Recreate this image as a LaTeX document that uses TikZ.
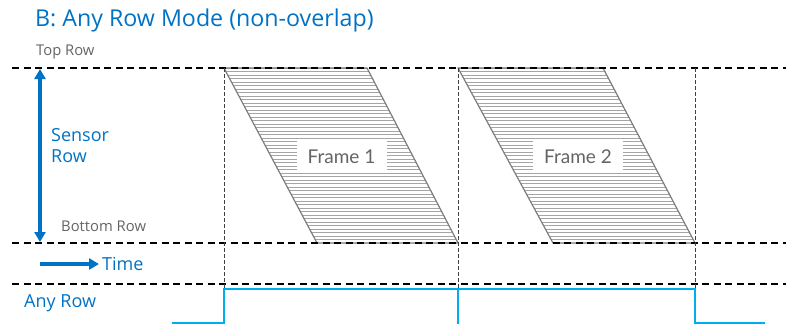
\documentclass[tikz,border=0pt]{standalone}
\usepackage{fontspec}
\setmainfont{Open Sans}
\newfontfamily\framefont{Lato}
\usetikzlibrary{arrows.meta}
\definecolor{titleblue}{RGB}{0,114,198}
\definecolor{sigblue}{RGB}{0,174,239}
\definecolor{labgray}{RGB}{100,100,100}
\definecolor{hatchgray}{RGB}{165,165,165}
\definecolor{edgegray}{RGB}{125,125,125}

\begin{document}
\begin{tikzpicture}[x=1pt,y=-1pt,
    rowline/.style={black,line width=1.3pt,dash pattern=on 7pt off 4.5pt},
    timeline/.style={black!75,line width=0.8pt,dash pattern=on 4pt off 2pt},
    bluearrow/.style={titleblue,line width=3.5pt,-{Triangle[length=10pt,width=11pt]}},
    bluetext/.style={titleblue,anchor=west,inner sep=0pt,font=\fontsize{18}{21}\selectfont},
    graytext/.style={labgray,anchor=west,inner sep=0pt,font=\fontsize{14.8}{17}\selectfont},
    framelabel/.style={fill=white,text=labgray,minimum width=90pt,minimum height=32pt,
      inner sep=0pt,font=\framefont\fontsize{19}{22}\selectfont}]
  \useasboundingbox (0,0) rectangle (786,324);

  % title and row labels
  \node[bluetext,font=\fontsize{23.2}{26}\selectfont] (title) at (35,20) {B: Any Row Mode (non-overlap)};
  \node[graytext] (toprow) at (36,52) {Top Row};
  \node[graytext] (botrow) at (61,226) {Bottom Row};
  \node[bluetext,align=left] (sensorrow) at (51,146) {Sensor\\Row};
  \node[bluetext] (time) at (102,264) {Time};
  \node[bluetext] (anyrow) at (24,303) {Any Row};

  % frames: hatched parallelograms
  \foreach \a/\b/\c/\d/\n in {224/367/317/458/1, 458/603/553/695/2}
  {
    \begin{scope}
      \clip (\a,68) -- (\b,68) -- (\d,243) -- (\c,243) -- cycle;
      \foreach \k in {0,...,50}
        \draw[hatchgray,line width=0.7pt] (\a,68+\k*3.5) -- (\d,68+\k*3.5);
    \end{scope}
    \draw[edgegray,line width=1.2pt,line join=round] (\a,68) -- (\b,68) -- (\d,243) -- (\c,243) -- cycle;
    \node[framelabel] (frame\n) at ({(\a+\d)/2+\n*1-0.5},157) {Frame \n};
  }

  % row and time grid
  \draw[rowline] (12,68) -- (786,68);
  \draw[rowline] (12,243) -- (786,243);
  \draw[rowline] (12,284) -- (786,284);
  \foreach \x in {224,458,695}
    \draw[timeline] (\x,68) -- (\x,288);

  % arrows
  \coordinate (srtop) at (40,69);
  \coordinate (srbot) at (40,242);
  \coordinate (tstart) at (40,264);
  \coordinate (tend) at (99,264);
  \draw[bluearrow,{Triangle[length=10pt,width=11pt]}-{Triangle[length=10pt,width=11pt]}] (srtop) -- (srbot);
  \draw[bluearrow] (tstart) -- (tend);

  % any row signal
  \draw[sigblue,line width=1.8pt] (172,323) -- (224,323) -- (224,289) -- (695,289) -- (695,323) -- (765,323);
  \draw[sigblue,line width=1.8pt] (458,289) -- (458,324);
\end{tikzpicture}
\end{document}
